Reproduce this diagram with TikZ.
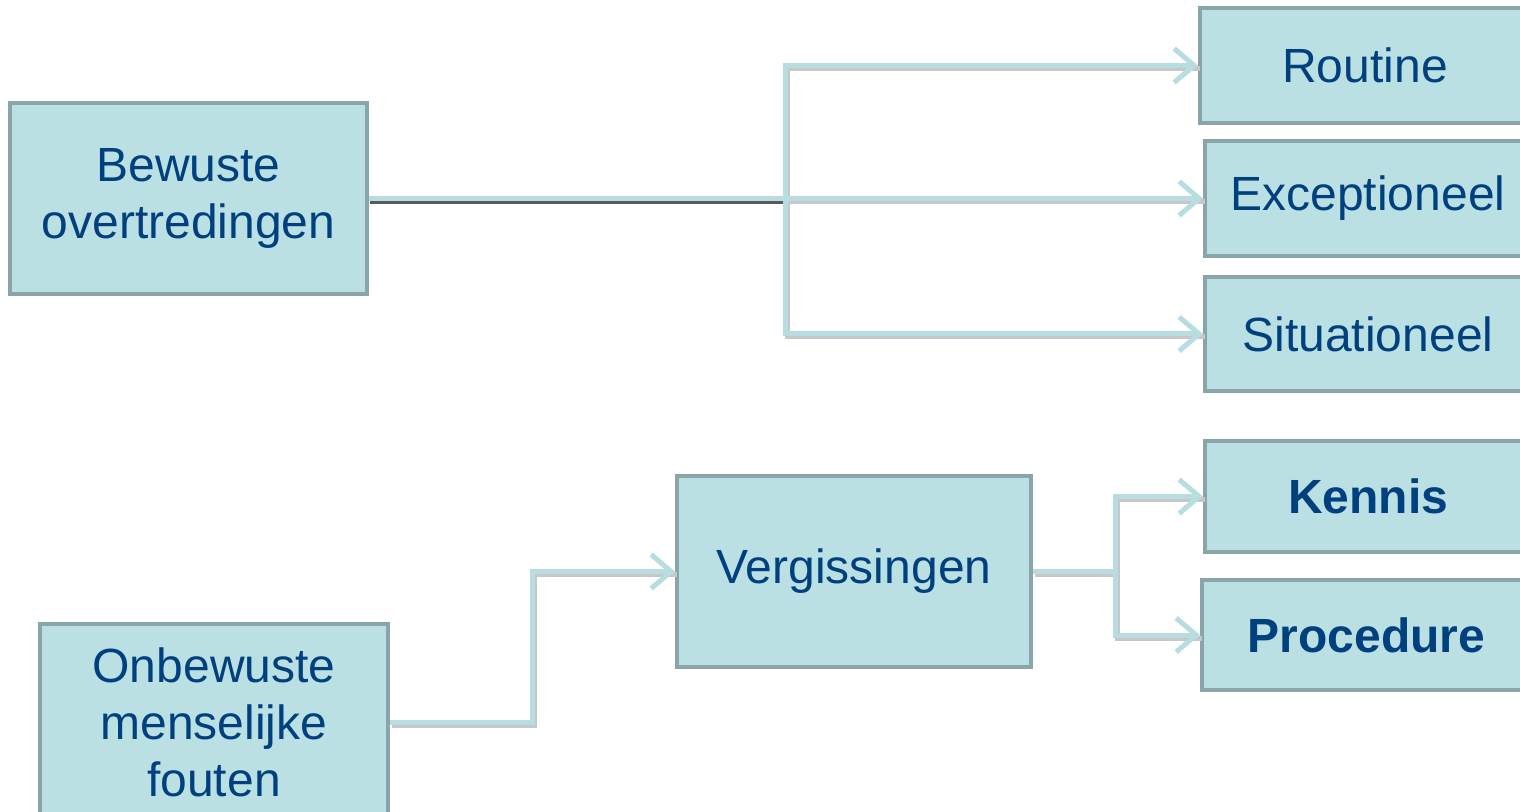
\documentclass[tikz,border=0pt]{standalone}
\usepackage{fontspec}
\setmainfont{Liberation Sans}
\usetikzlibrary{arrows.meta}
\definecolor{boxfill}{HTML}{BAE0E3}
\definecolor{boxline}{HTML}{8AA5A8}
\definecolor{txt}{HTML}{00407F}
\definecolor{conncol}{HTML}{B7DDE1}
\begin{document}
\begin{tikzpicture}[x=0.5pt,y=-0.5pt,
  box/.style={draw=boxline, fill=boxfill, line width=2pt, text=txt,
    font=\fontsize{24}{28.5}\selectfont, align=center, inner sep=0pt},
  conn/.style={draw=conncol, line width=2.5pt},
  arr/.style={-{Straight Barb[length=10pt,width=17pt]}},
  shad/.style={draw=black!22, line width=2.5pt, transform canvas={shift={(2,3)}}},
  darkshad/.style={draw=black!65, line width=2.5pt, transform canvas={shift={(1,3)}}}]
\clip (0,0) rectangle (1520,812);
\fill[white] (0,0) rectangle (1520,812);
% nodes
\node[box, minimum width=178.5pt, minimum height=95.5pt] (bew) at (188.5,198.5) {Bewuste\\overtredingen};
\node[box, minimum width=165pt, minimum height=57.5pt] (rout) at (1365,65.5) {Routine};
\node[box, minimum width=163pt, minimum height=57.5pt] (exc) at (1368,198.5) {Exceptioneel};
\node[box, minimum width=163pt, minimum height=57pt] (sit) at (1368,334) {Situationeel};
\node[box, minimum width=163pt, minimum height=55.5pt, font=\fontsize{24}{28.5}\selectfont\bfseries] (ken) at (1368,496.5) {Kennis};
\node[box, minimum width=164.5pt, minimum height=55pt, font=\fontsize{24}{28.5}\selectfont\bfseries] (proc) at (1366.5,635) {Procedure};
\node[box, minimum width=177pt, minimum height=95.5pt] (verg) at (854,571.5) {Vergissingen};
\node[box, minimum width=174pt, minimum height=98pt] (onb) at (214,722) {Onbewuste\\menselijke\\fouten};
% junctions
\coordinate (j1) at (785,198.5);
\coordinate (j2) at (1115,571.5);
\coordinate (j3) at (532,722);
% shadows
\draw[darkshad] (bew.east) -- (j1);
\draw[shad] (j1) |- (rout.west);
\draw[shad] (j1) -- (exc.west);
\draw[shad] (j1) |- (sit.west);
\draw[shad] (verg.east) -- (j2);
\draw[shad] (j2) |- (ken.west);
\draw[shad] (j2) |- (proc.west);
\draw[shad] (onb.east) -- (j3) |- (verg.west);
% connectors
\draw[conn] (bew.east) -- (j1);
\draw[conn, arr] (j1) |- (rout.west);
\draw[conn, arr] (j1) -- (exc.west);
\draw[conn, arr] (j1) |- (sit.west);
\draw[conn] (verg.east) -- (j2);
\draw[conn, arr] (j2) |- (ken.west);
\draw[conn, arr] (j2) |- (proc.west);
\draw[conn, arr] (onb.east) -- (j3) |- (verg.west);
\end{tikzpicture}
\end{document}
